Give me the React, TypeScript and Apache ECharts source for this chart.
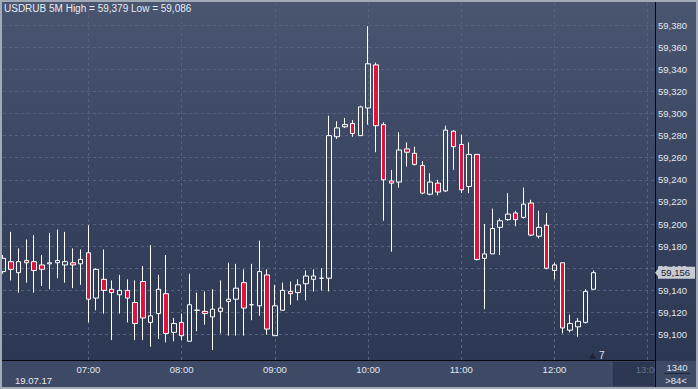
import React, { useEffect, useRef } from 'react';
import * as echarts from 'echarts';

const instrument = 'USDRUB';
const period = '5M';
const dateLabel = '19.07.17';
const spreadLabel = '1340';
const barsLabel = '>84<';
const countdownLabel = '7';

// 5-minute candles from 06:05 (index 0) to 12:25 (index 76)
const opens = [
  59157, 59166, 59156, 59167, 59166, 59163, 59164, 59165, 59163, 59165, 59164,
  59174, 59133, 59150, 59141, 59136, 59140, 59129, 59148, 59111, 59119, 59137,
  59102, 59111, 59094, 59122, 59121, 59116, 59121, 59130, 59132, 59147, 59127,
  59126, 59154, 59099, 59122, 59139, 59138, 59146, 59150, 59151, 59151, 59279,
  59288, 59291, 59280, 59305, 59344, 59290, 59239, 59238, 59268, 59264, 59253,
  59227, 59237, 59230, 59284, 59272, 59234, 59263, 59169, 59173, 59197, 59204,
  59210, 59206, 59219, 59189, 59199, 59158, 59165, 59104, 59107, 59111, 59141,
];
const closes = [
  59169, 59159, 59166, 59165, 59158, 59159, 59165, 59167, 59166, 59163, 59168,
  59132, 59159, 59140, 59138, 59140, 59133, 59110, 59115, 59117, 59141, 59101,
  59110, 59099, 59127, 59122, 59119, 59123, 59124, 59132, 59142, 59124, 59127,
  59157, 59105, 59126, 59140, 59137, 59145, 59153, 59153, 59151, 59280, 59287,
  59290, 59282, 59306, 59345, 59289, 59240, 59237, 59267, 59265, 59254, 59228,
  59238, 59229, 59285, 59270, 59231, 59263, 59168, 59173, 59196, 59203, 59209,
  59204, 59218, 59190, 59197, 59160, 59163, 59106, 59110, 59112, 59139, 59156,
];
const lows = [
  59155, 59149, 59138, 59147, 59138, 59144, 59141, 59151, 59147, 59142, 59145,
  59111, 59122, 59119, 59095, 59119, 59111, 59095, 59095, 59089, 59096, 59093,
  59094, 59095, 59094, 59103, 59109, 59086, 59101, 59099, 59099, 59099, 59113,
  59117, 59100, 59099, 59122, 59127, 59131, 59131, 59139, 59140, 59139, 59277,
  59287, 59279, 59280, 59290, 59265, 59203, 59175, 59233, 59252, 59253, 59227,
  59226, 59226, 59229, 59249, 59228, 59228, 59167, 59123, 59173, 59172, 59203,
  59198, 59205, 59189, 59187, 59159, 59150, 59101, 59102, 59098, 59110, 59141,
];
const highs = [
  59172, 59193, 59178, 59186, 59190, 59172, 59192, 59195, 59193, 59178, 59177,
  59199, 59160, 59177, 59149, 59154, 59150, 59149, 59162, 59181, 59154, 59172,
  59115, 59119, 59155, 59138, 59139, 59141, 59149, 59165, 59164, 59159, 59164,
  59185, 59159, 59145, 59147, 59148, 59150, 59158, 59159, 59160, 59298, 59293,
  59296, 59294, 59307, 59379, 59346, 59292, 59249, 59283, 59274, 59270, 59257,
  59246, 59240, 59289, 59285, 59281, 59274, 59263, 59200, 59214, 59205, 59228,
  59212, 59233, 59222, 59212, 59210, 59165, 59165, 59118, 59115, 59141, 59158,
];

const yTicks = [
  59100, 59120, 59140, 59160, 59180, 59200, 59220, 59240, 59260, 59280, 59300,
  59320, 59340, 59360, 59380,
];
const hourTicks = [11, 23, 35, 47, 59, 71, 83];
const hourLabels = ['07:00', '08:00', '09:00', '10:00', '11:00', '12:00', '13:00'];

const FONT = "'Liberation Sans', Arial, sans-serif";
const fmt = (v: number) => Math.round(v).toLocaleString('en-US');
const X_MAX = 83.94;

export default function App() {
  const ref = useRef<HTMLDivElement>(null);

  useEffect(() => {
    if (!ref.current) return;
    const chart = echarts.init(ref.current, undefined, { renderer: 'svg' });
    const data = opens.map((o, i) => [i, o, closes[i], lows[i], highs[i]]);
    const hi = Math.max(...highs);
    const lo = Math.min(...lows);
    const last = closes[closes.length - 1];

    const baseGraphic: any[] = [
      { id: 'band', type: 'rect', z: -10, shape: { x: 0, y: 361, width: 698, height: 28 }, style: { fill: '#3e4a65' } },
      { id: 'future', type: 'rect', z: -9, shape: { x: 612, y: 361, width: 43, height: 26 }, style: { fill: '#2c3751', stroke: '#465270', lineWidth: 1 } },
      { id: 'rbox', type: 'rect', z: 50, shape: { x: 656, y: 361, width: 42, height: 28 }, style: { fill: '#3e4a65' } },
      { id: 'vline', type: 'line', z: 60, shape: { x1: 655.5, y1: 0, x2: 655.5, y2: 389 }, style: { stroke: '#05070c', lineWidth: 1 } },
      { id: 'hline', type: 'line', z: 60, shape: { x1: 2, y1: 360.5, x2: 655, y2: 360.5 }, style: { stroke: '#05070c', lineWidth: 1 } },
      { id: 'date', type: 'text', z: 60, x: 15, y: 380, style: { text: dateLabel, fill: '#e2e6ee', fontSize: 9.5, fontFamily: FONT, verticalAlign: 'middle' } },
      { id: 'spread', type: 'text', z: 60, x: 677, y: 367, style: { text: spreadLabel, fill: '#e2e6ee', fontSize: 9.5, fontFamily: FONT, align: 'center', verticalAlign: 'middle' } },
      { id: 'uline', type: 'line', z: 60, shape: { x1: 664, y1: 373.5, x2: 690, y2: 373.5 }, style: { stroke: '#1d2436', lineWidth: 1 } },
      { id: 'bars', type: 'text', z: 60, x: 676, y: 380, style: { text: barsLabel, fill: '#e2e6ee', fontSize: 9.5, fontFamily: FONT, align: 'center', verticalAlign: 'middle' } },
      { id: 'tri', type: 'polygon', z: 60, shape: { points: [[589, 358.5], [596, 358.5], [592.5, 353]] }, style: { fill: '#1b2233' } },
      { id: 'cd', type: 'text', z: 60, x: 599, y: 355.5, style: { text: countdownLabel, fill: '#e2e6ee', fontSize: 10, fontFamily: FONT, verticalAlign: 'middle' } },
      { id: 'frame', type: 'rect', z: 100, shape: { x: 1, y: 1, width: 696, height: 387 }, style: { fill: 'none', stroke: '#a2aab8', lineWidth: 2 } },
    ];

    chart.setOption({
      animation: false,
      backgroundColor: 'transparent',
      title: {
        text: `${instrument} ${period} High = ${fmt(hi)} Low = ${fmt(lo)}`,
        left: 4,
        top: 3,
        padding: 0,
        textStyle: { color: '#e8ecf3', fontSize: 10, fontWeight: 'normal', fontFamily: FONT },
      },
      grid: { left: 3, top: 3, width: 652, height: 357, containLabel: false },
      xAxis: {
        type: 'value',
        min: 0,
        max: X_MAX,
        axisLine: { show: false },
        axisTick: { show: false, customValues: hourTicks },
        axisLabel: {
          customValues: hourTicks,
          margin: 4,
          color: '#e2e6ee',
          fontSize: 9.5,
          fontFamily: FONT,
          formatter: (v: number) => {
            const i = hourTicks.indexOf(Math.round(v));
            const s = i >= 0 ? hourLabels[i] : '';
            return i === hourTicks.length - 1 ? `{d|${s}}` : s;
          },
          rich: { d: { color: '#65708a', fontSize: 9.5, fontFamily: FONT } },
        },
        splitLine: { show: true, lineStyle: { color: '#56627d', type: [3, 3], width: 1 } },
      },
      yAxis: {
        type: 'value',
        position: 'right',
        min: 59077,
        max: 59400,
        scale: true,
        axisLine: { show: false },
        axisTick: { show: false, customValues: yTicks },
        axisLabel: {
          customValues: yTicks,
          margin: 3,
          color: '#e2e6ee',
          fontSize: 9.5,
          fontFamily: FONT,
          formatter: (v: number) => fmt(v),
        },
        splitLine: { show: true, lineStyle: { color: '#56627d', type: [3, 3], width: 1 } },
      },
      series: [
        {
          type: 'candlestick',
          data,
          encode: { x: 0, y: [1, 2, 3, 4] },
          barWidth: 5,
          clip: true,
          itemStyle: {
            color: 'transparent',
            color0: '#e0133d',
            borderColor: '#ffffff',
            borderColor0: '#ffffff',
            borderWidth: 1,
          },
          markLine: {
            silent: true,
            symbol: ['none', 'none'],
            data: [{ yAxis: last }],
            lineStyle: { color: 'rgba(0,0,0,0)', width: 0 },
            z: 20,
            label: {
              position: 'end',
              distance: 3,
              formatter: (p: any) => fmt(p.value),
              backgroundColor: '#c6cbd4',
              color: '#18202f',
              fontSize: 9.5,
              fontFamily: FONT,
              padding: [1, 5, 1, 3],
            },
          },
        },
      ],
      graphic: baseGraphic,
    });

    const p = chart.convertToPixel({ gridIndex: 0 }, [X_MAX, last]) as number[];
    if (p && isFinite(p[1])) {
      chart.setOption({
        graphic: [
          ...baseGraphic,
          {
            id: 'arrow',
            type: 'polygon',
            z: 70,
            shape: { points: [[655, p[1]], [659, p[1] - 5], [659, p[1] + 5]] },
            style: { fill: '#c6cbd4' },
          },
        ],
      });
    }
    return () => chart.dispose();
  }, []);

  return (
    <div
      ref={ref}
      style={{
        position: 'fixed',
        left: 0,
        top: 0,
        width: 698,
        height: 389,
        background: 'linear-gradient(to bottom, #4a5670 0%, #3a4661 45%, #2a3550 100%)',
      }}
    />
  );
}
